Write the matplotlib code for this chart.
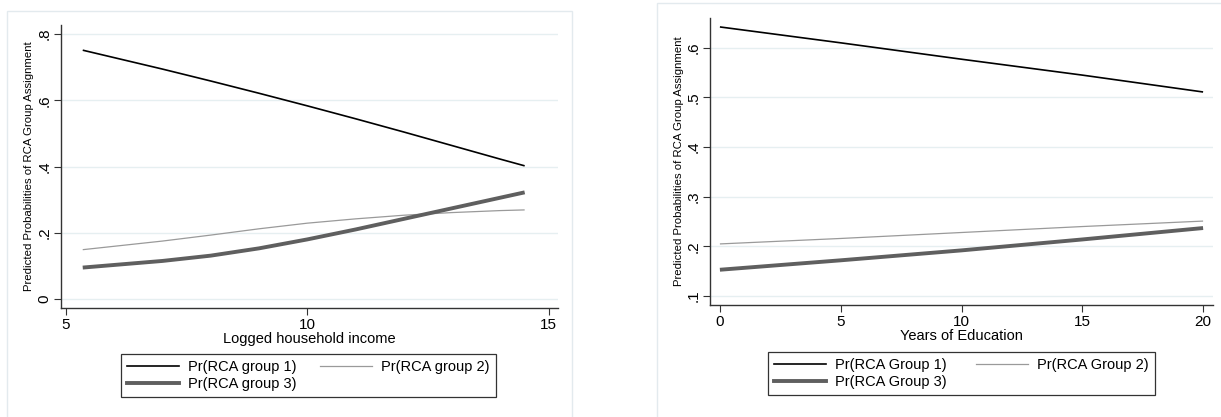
import numpy as np
import matplotlib.pyplot as plt
from matplotlib.patches import Rectangle
from matplotlib.lines import Line2D

plt.rcParams["font.family"] = ["Liberation Sans", "DejaVu Sans"]
plt.rcParams["font.size"] = 10.5

# left panel: logged household income
inc_x = [5.35, 7, 8, 9, 10, 11, 12, 13, 14, 14.5]
inc_g1 = [0.751, 0.694, 0.658, 0.621, 0.583, 0.544, 0.504, 0.463, 0.422, 0.402]
inc_g2 = [0.149, 0.175, 0.193, 0.212, 0.229, 0.242, 0.253, 0.261, 0.267, 0.269]
inc_g3 = [0.095, 0.115, 0.131, 0.153, 0.180, 0.210, 0.242, 0.274, 0.306, 0.322]
inc_labels = ["Pr(RCA group 1)", "Pr(RCA group 2)", "Pr(RCA group 3)"]

# right panel: years of education
edu_x = [0, 5, 10, 15, 20]
edu_g1 = [0.642, 0.610, 0.577, 0.545, 0.511]
edu_g2 = [0.205, 0.216, 0.228, 0.240, 0.251]
edu_g3 = [0.153, 0.172, 0.192, 0.214, 0.237]
edu_labels = ["Pr(RCA Group 1)", "Pr(RCA Group 2)", "Pr(RCA Group 3)"]

W, H = 1221, 417
fig = plt.figure(figsize=(W / 100, H / 100), dpi=100)

def px(l, t, r, b):
    return [l / W, (H - b) / H, (r - l) / W, (b - t) / H]

frame_col = "#e3eaee"
fig.patches.append(Rectangle((7 / W, -0.1), (572 - 7) / W, (H - 11) / H + 0.1,
                             transform=fig.transFigure, fill=False,
                             edgecolor=frame_col, lw=1))
fig.patches.append(Rectangle((657 / W, -0.1), 0.5, (H - 3) / H + 0.1,
                             transform=fig.transFigure, fill=False,
                             edgecolor=frame_col, lw=1))

styles = [dict(color="black", lw=1.2),
          dict(color="#9a9a9a", lw=0.9),
          dict(color="#5f5f5f", lw=2.8)]

def panel(rect, x, ys, labels, xlim, ylim, xticks, yticks, yticklabels, xlabel, legpos, colsp):
    ax = fig.add_axes(px(*rect))
    for y, st in zip(ys, styles):
        ax.plot(x, y, solid_capstyle="butt", **st)
    ax.set_xlim(*xlim)
    ax.set_ylim(*ylim)
    ax.set_xticks(xticks)
    ax.set_yticks(yticks)
    ax.set_yticklabels(yticklabels, rotation=90, va="center")
    ax.grid(axis="y", color="#e6eff1", lw=1)
    ax.set_axisbelow(True)
    for s in ["top", "right"]:
        ax.spines[s].set_visible(False)
    for s in ["left", "bottom"]:
        ax.spines[s].set_color("#333333")
        ax.spines[s].set_linewidth(1)
    ax.tick_params(direction="out", length=5, width=0.8, color="#333333",
                   labelsize=11, pad=2)
    ax.set_xlabel(xlabel, fontsize=10.5, labelpad=0)
    ax.set_ylabel("Predicted Probabilities of RCA Group Assignment", fontsize=8.2, labelpad=2)
    handles = [Line2D([], [], **st) for st in styles]
    l, t = legpos
    leg = fig.legend([handles[0], handles[2], handles[1]],
                     [labels[0], labels[2], labels[1]],
                     ncol=2, loc="upper left",
                     bbox_to_anchor=(l / W, (H - t) / H),
                     fancybox=False, frameon=True, edgecolor="black",
                     fontsize=10.5, handlelength=3.55, handletextpad=0.65,
                     columnspacing=colsp, borderaxespad=0, labelspacing=0.2,
                     borderpad=0.4)
    leg.get_frame().set_linewidth(0.9)
    return ax

panel((61, 25, 558, 308), inc_x, [inc_g1, inc_g2, inc_g3], inc_labels,
      (4.9, 15.19), (-0.027, 0.827), [5, 10, 15], [0, 0.2, 0.4, 0.6, 0.8],
      ["0", ".2", ".4", ".6", ".8"], "Logged household income",
      (121, 354), 1.6)

panel((710, 18, 1213, 305), edu_x, [edu_g1, edu_g2, edu_g3], edu_labels,
      (-0.41, 20.41), (0.082, 0.66), [0, 5, 10, 15, 20], [0.1, 0.2, 0.3, 0.4, 0.5, 0.6],
      [".1", ".2", ".3", ".4", ".5", ".6"], "Years of Education",
      (768, 352), 2.0)

fig.savefig("out.png", dpi=100)
